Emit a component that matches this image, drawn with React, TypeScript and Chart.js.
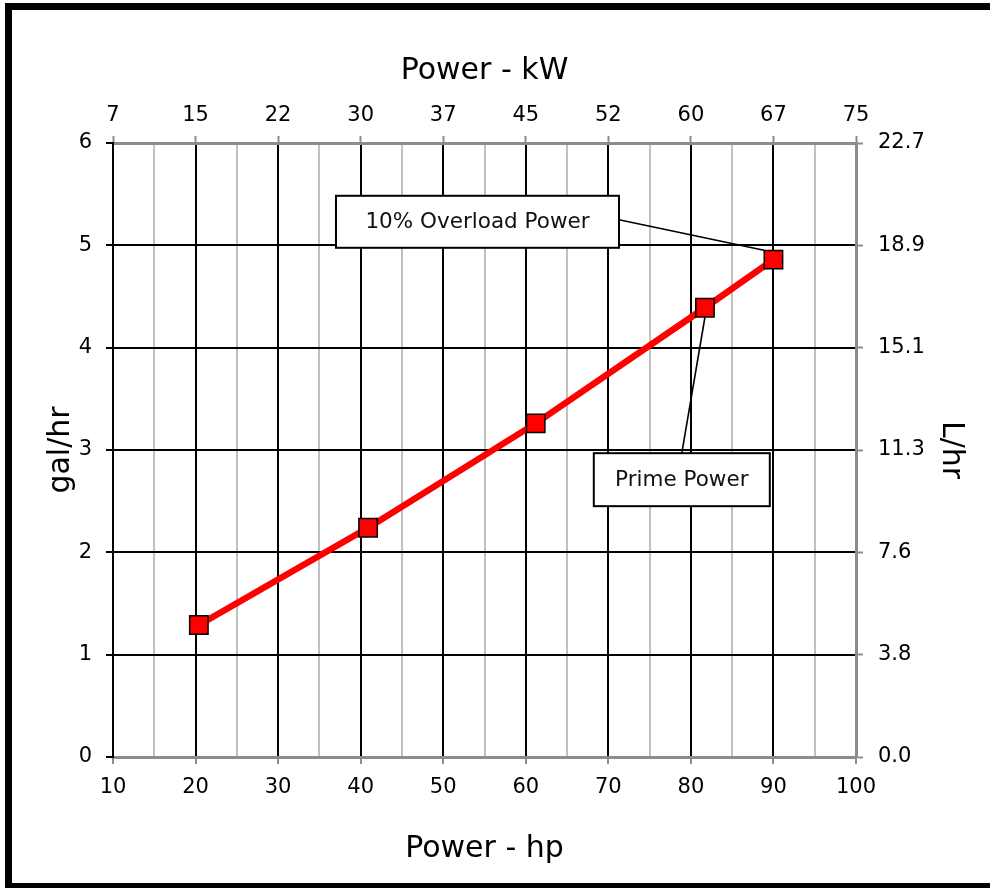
import React, { useEffect, useRef } from 'react';
import { Chart, registerables } from 'chart.js';

Chart.register(...registerables);

// ---- data ----
const hpValues = [20.4, 40.9, 61.2, 81.7, 90];
const galPerHour = [1.29, 2.24, 3.26, 4.39, 4.86];
const hpTickLabels = ['10', '20', '30', '40', '50', '60', '70', '80', '90', '100'];
const kwTickLabels = ['7', '15', '22', '30', '37', '45', '52', '60', '67', '75'];
const galTickLabels = ['0', '1', '2', '3', '4', '5', '6'];
const litreTickLabels = ['0.0', '3.8', '7.6', '11.3', '15.1', '18.9', '22.7'];
const calloutLabels = ['10% Overload Power', 'Prime Power'];
const calloutPointIndex = [4, 3];
const calloutBoxHp = [54.15, 78.9];
const calloutBoxGal = [5.23, 2.71];

// ---- styling / layout ----
const W = 990;
const H = 888;
const AREA = { left: 113, right: 856, top: 143, bottom: 757 };
const FONT = 'DejaVu Sans, Verdana, sans-serif';
const GREY_AXIS = '#8c8c8c';
const MINOR = '#c0c0c0';
const CALLOUT = {
  boxWidth: [283, 176],
  boxHeight: [52, 53],
  anchor: ['right', 'top'],
  target: [
    [-1, -1],
    [0, 1],
  ],
  markerHalf: 9.5,
};

const calloutPlugin = {
  id: 'callouts',
  beforeDatasetsDraw(chart: any) {
    const { ctx } = chart;
    const xs = chart.scales.x;
    const ys = chart.scales.y;
    const meta = chart.getDatasetMeta(0);
    ctx.save();
    ctx.strokeStyle = '#000';
    ctx.lineWidth = 1.6;
    calloutLabels.forEach((_, i) => {
      const pt = meta.data[calloutPointIndex[i]];
      const cx = xs.getPixelForValue(calloutBoxHp[i]);
      const cy = ys.getPixelForValue(calloutBoxGal[i]);
      const w = CALLOUT.boxWidth[i];
      const h = CALLOUT.boxHeight[i];
      let sx = cx;
      let sy = cy;
      if (CALLOUT.anchor[i] === 'right') {
        sx = cx + w / 2;
        sy = cy - 2;
      } else {
        sx = cx;
        sy = cy - h / 2;
      }
      const tx = pt.x + CALLOUT.target[i][0] * CALLOUT.markerHalf;
      const ty = pt.y + CALLOUT.target[i][1] * CALLOUT.markerHalf;
      ctx.beginPath();
      ctx.moveTo(sx, sy);
      ctx.lineTo(tx, ty);
      ctx.stroke();
    });
    ctx.restore();
  },
  afterDatasetsDraw(chart: any) {
    const { ctx } = chart;
    const xs = chart.scales.x;
    const ys = chart.scales.y;
    ctx.save();
    calloutLabels.forEach((label, i) => {
      const cx = xs.getPixelForValue(calloutBoxHp[i]);
      const cy = ys.getPixelForValue(calloutBoxGal[i]);
      const w = CALLOUT.boxWidth[i];
      const h = CALLOUT.boxHeight[i];
      ctx.fillStyle = '#fff';
      ctx.fillRect(cx - w / 2, cy - h / 2, w, h);
      ctx.strokeStyle = '#000';
      ctx.lineWidth = 2;
      ctx.strokeRect(cx - w / 2, cy - h / 2, w, h);
      ctx.fillStyle = '#111';
      ctx.font = `21.5px ${FONT}`;
      ctx.textAlign = 'center';
      ctx.textBaseline = 'middle';
      ctx.fillText(label, cx, cy + 1);
    });
    ctx.restore();
  },
};

export default function App() {
  const ref = useRef<HTMLCanvasElement>(null);

  useEffect(() => {
    if (!ref.current) return;
    const tickFont = { family: FONT, size: 21 };
    const titleFont = { family: FONT, size: 30 };
    const chart = new Chart(ref.current, {
      type: 'line',
      data: {
        datasets: [
          {
            data: hpValues.map((x, i) => ({ x, y: galPerHour[i] })),
            borderColor: '#ff0000',
            borderWidth: 6.5,
            backgroundColor: '#ff0000',
            pointStyle: 'rect',
            pointRadius: 13,
            pointBackgroundColor: '#ff0000',
            pointBorderColor: '#000',
            pointBorderWidth: 1.5,
            tension: 0,
          },
        ],
      },
      options: {
        responsive: false,
        animation: false,
        events: [],
        layout: { padding: 0 },
        plugins: {
          legend: { display: false },
          tooltip: { enabled: false },
        },
        scales: {
          x: {
            type: 'linear',
            position: 'bottom',
            min: 10,
            max: 100,
            afterFit: (s: any) => {
              s.height = H - AREA.bottom;
            },
            ticks: {
              stepSize: 5,
              autoSkip: false,
              maxRotation: 0,
              padding: 11,
              color: '#000',
              font: tickFont,
              callback: (v: any) => (v % 10 === 0 ? hpTickLabels[(v - 10) / 10] : ''),
            },
            grid: {
              lineWidth: 2,
              tickLength: 7,
              tickWidth: 2,
              color: (c: any) => {
                const v = c.tick ? c.tick.value : 0;
                if (v === 100) return 'rgba(0,0,0,0)';
                return v % 10 === 0 ? '#000' : MINOR;
              },
              tickColor: (c: any) => {
                const v = c.tick ? c.tick.value : 0;
                return v % 10 === 0 ? GREY_AXIS : 'rgba(0,0,0,0)';
              },
            },
            border: { color: GREY_AXIS, width: 3 },
            title: {
              display: true,
              text: 'Power - hp',
              color: '#000',
              font: titleFont,
              padding: { top: 0, bottom: 21 },
            },
          },
          x2: {
            type: 'linear',
            position: 'top',
            min: 10,
            max: 100,
            afterFit: (s: any) => {
              s.height = AREA.top;
            },
            ticks: {
              stepSize: 10,
              autoSkip: false,
              maxRotation: 0,
              padding: 8,
              color: '#000',
              font: tickFont,
              callback: (v: any) => kwTickLabels[Math.round((v - 10) / 10)],
            },
            grid: {
              drawOnChartArea: false,
              tickLength: 7,
              tickWidth: 2,
              tickColor: GREY_AXIS,
            },
            border: { color: GREY_AXIS, width: 3 },
            title: {
              display: true,
              text: 'Power - kW',
              color: '#000',
              font: titleFont,
              padding: { top: 53, bottom: 0 },
            },
          },
          y: {
            type: 'linear',
            position: 'left',
            min: 0,
            max: 6,
            afterFit: (s: any) => {
              s.width = AREA.left;
            },
            ticks: {
              stepSize: 1,
              padding: 14,
              color: '#000',
              font: tickFont,
              callback: (v: any) => galTickLabels[v],
            },
            grid: {
              lineWidth: 2,
              tickLength: 7,
              tickWidth: 2,
              tickColor: '#000',
              color: (c: any) => {
                const v = c.tick ? c.tick.value : 0;
                return v === 0 || v === 6 ? 'rgba(0,0,0,0)' : '#000';
              },
            },
            border: { color: '#000', width: 2 },
            title: {
              display: true,
              text: 'gal/hr',
              color: '#000',
              font: titleFont,
              padding: { top: 43, bottom: 0 },
            },
          },
          y2: {
            type: 'linear',
            position: 'right',
            min: 0,
            max: 6,
            afterFit: (s: any) => {
              s.width = W - AREA.right;
            },
            ticks: {
              stepSize: 1,
              padding: 15,
              color: '#000',
              font: tickFont,
              callback: (v: any) => litreTickLabels[v],
            },
            grid: {
              drawOnChartArea: false,
              tickLength: 7,
              tickWidth: 2,
              tickColor: GREY_AXIS,
            },
            border: { color: GREY_AXIS, width: 3 },
            title: {
              display: true,
              text: 'L/hr',
              color: '#000',
              font: titleFont,
              padding: { top: 21, bottom: 0 },
            },
          },
        },
      },
      plugins: [calloutPlugin],
    } as any);
    return () => chart.destroy();
  }, []);

  return (
    <div style={{ position: 'fixed', left: 0, top: 0, width: W, height: H, overflow: 'hidden', background: '#fff' }}>
      <canvas ref={ref} width={W} height={H} style={{ position: 'absolute', left: 0, top: 0, width: W, height: H }} />
      <div
        style={{
          position: 'absolute',
          left: 5,
          top: 3,
          width: 1100,
          height: 887,
          boxSizing: 'border-box',
          border: '7px solid #000',
          pointerEvents: 'none',
        }}
      />
    </div>
  );
}
